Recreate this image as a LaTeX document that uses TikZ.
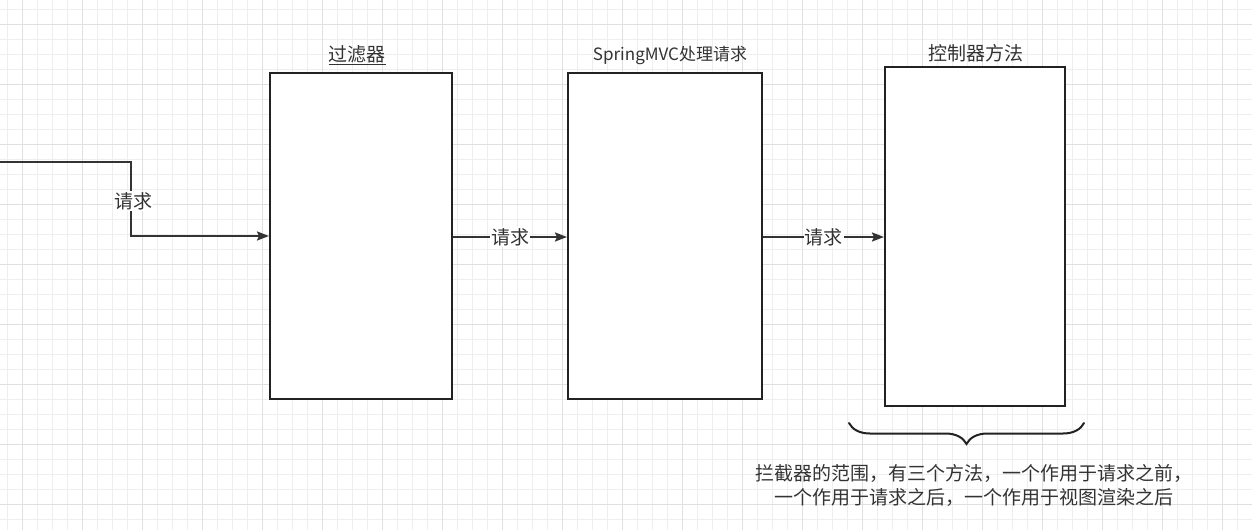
\documentclass[tikz,border=0pt]{standalone}
\usepackage{fontspec}
\setmainfont{Noto Sans CJK SC}
\usetikzlibrary{arrows.meta,decorations.pathreplacing}

\definecolor{gridminor}{HTML}{EEEEEE}
\definecolor{gridmajor}{HTML}{E0E0E0}
\definecolor{linecol}{HTML}{222222}
\definecolor{textcol}{HTML}{333333}

\begin{document}
\begin{tikzpicture}[x=1pt,y=-1pt,
    box/.style={draw=linecol,line width=2pt,fill=white,inner sep=0pt},
    flow/.style={draw=textcol,line width=2pt,-{Stealth[length=12pt,width=9pt,inset=2pt]}},
    lbl/.style={text=textcol,font=\fontsize{19}{24}\selectfont,inner sep=1pt},
    tag/.style={lbl,fill=white}]
    \useasboundingbox (0,0) rectangle (1252,530);
    \fill[white] (0,0) rectangle (1252,530);

    % grid
    \foreach \i in {0,...,83}
        \draw[gridminor,line width=1pt] ({7.3+15*\i},0) -- ({7.3+15*\i},530);
    \foreach \i in {0,...,35}
        \draw[gridminor,line width=1pt] (0,{9.3+15*\i}) -- (1252,{9.3+15*\i});
    \foreach \i in {0,...,20}
        \draw[gridmajor,line width=1pt] ({22.3+60*\i},0) -- ({22.3+60*\i},530);
    \foreach \i in {0,...,8}
        \draw[gridmajor,line width=1pt] (0,{24.3+60*\i}) -- (1252,{24.3+60*\i});

    % boxes
    \node[box,minimum width=182pt,minimum height=326pt] (filter) at (361,236) {};
    \node[box,minimum width=194pt,minimum height=326pt] (mvc) at (665,236) {};
    \node[box,minimum width=180pt,minimum height=339pt] (ctrl) at (975,236.5) {};

    \node[lbl] (filterlbl) at (357,55) {\underline{过滤器}};
    \node[lbl,font=\fontsize{17}{20}\selectfont] (mvclbl) at (670,55) {SpringMVC处理请求};
    \node[lbl] (ctrllbl) at (976,53) {控制器方法};

    % connectors
    \coordinate (in) at (0,162);
    \coordinate (bend) at (131,162);
    \draw[flow] (in) -- (bend) -- (bend |- filter.west) -- (filter.west);
    \node[tag] (req1) at (133,201) {请求};
    \draw[flow] (filter.east |- 0,237) -- node[tag] (req2) {请求} (mvc.west |- 0,237);
    \draw[flow] (mvc.east |- 0,237) -- node[tag] (req3) {请求} (ctrl.west |- 0,237);

    % interceptor range
    \coordinate (braceL) at (849,423);
    \coordinate (braceR) at (1084,423);
    \draw[linecol,line width=2pt,line cap=round,decorate,decoration={brace,mirror,amplitude=21pt}] (braceL) -- (braceR);
    \node[lbl,align=center] (note) at (974,485) {拦截器的范围，有三个方法，一个作用于请求之前，\\一个作用于请求之后，一个作用于视图渲染之后};
\end{tikzpicture}
\end{document}
